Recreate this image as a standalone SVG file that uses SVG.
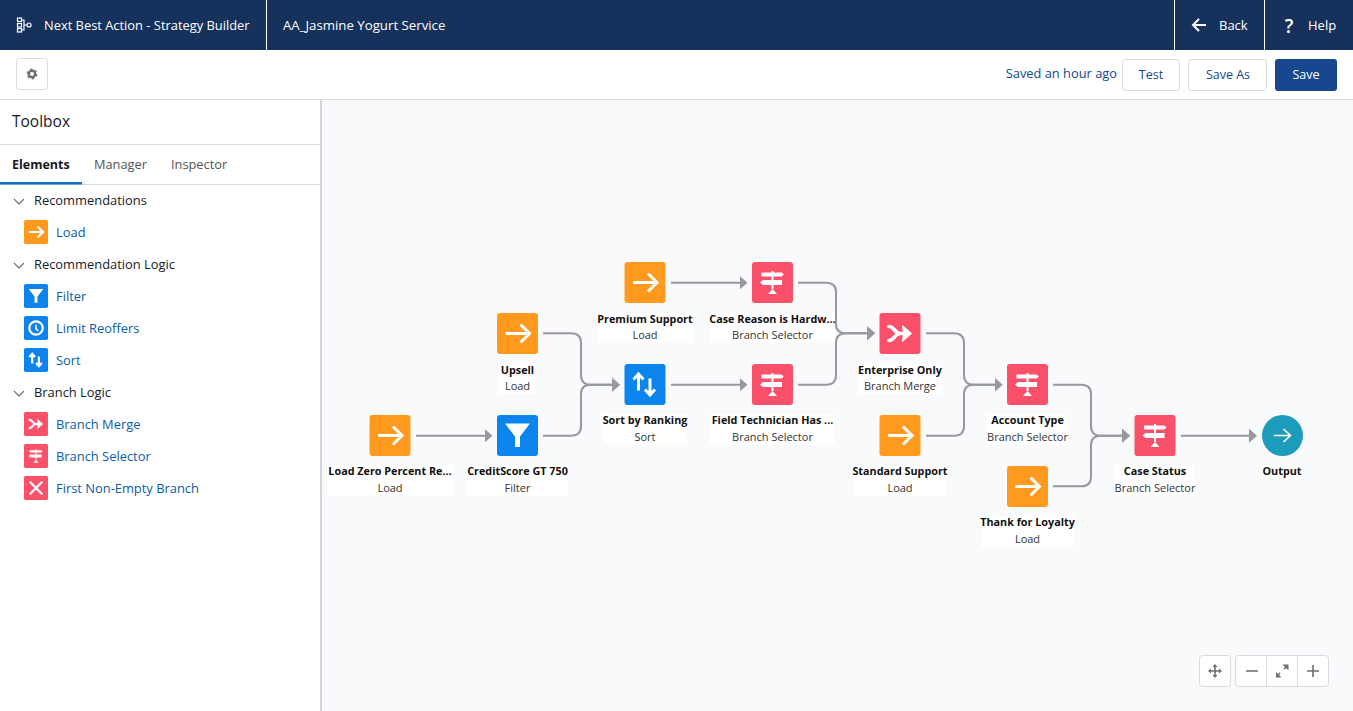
<svg xmlns="http://www.w3.org/2000/svg" xmlns:xlink="http://www.w3.org/1999/xlink" width="1353" height="711" viewBox="0 0 1353 711">
<style>
text{font-family:"Open Sans","Noto Sans","Liberation Sans",sans-serif}
.hd{fill:#fff;font-size:13px}
.sec{fill:#16191f;font-size:12.9px}
.lnk{fill:#0b5cab;font-size:12.9px}
.btn{fill:#16478f;font-size:12.5px;text-anchor:middle}
.t{fill:#111;font-size:10.8px;font-weight:700;text-anchor:middle}
.s{fill:#333;font-size:11px;text-anchor:middle}
.bg{fill:#fff}
.conn{fill:none;stroke:#97999e;stroke-width:2}
.w{fill:none;stroke:#fff;stroke-width:var(--sw,3)}
.ol{fill:#fff;stroke:#d8dadd;stroke-width:1}
.ic{fill:none;stroke:#706e6b;stroke-width:1.6}
.chev{fill:none;stroke:#6b6d70;stroke-width:1.1}
.side{--sw:3.8}
</style>
<defs>
<marker id="ah" markerUnits="userSpaceOnUse" markerWidth="9" markerHeight="14" refX="0.5" refY="7" orient="auto"><path d="M0 0L8 7L0 14Z" fill="#97999e"/></marker>
<path id="sign" d="M-11-10H-1V-11.500H1V-10H9L11.500-8L9-6H1V-2.500H9.500V2.500H1V6.500H-1V2.500H-9.500L-12.500 0L-9.500-2.500H-1V-6H-11ZM0 6.500L4.500 11.500H-4.500Z" fill="#fff"/>
<g id="i-load"><rect x="-20.5" y="-20.5" width="41" height="41" rx="3" fill="#ff9a1e"/><path class="w" d="M-12 0H11M3-9L12 0L3 9"/></g>
<g id="i-filter"><rect x="-20.5" y="-20.5" width="41" height="41" rx="3" fill="#0b84ee"/><path d="M-12.5-12H12.5L2.5 1V11.5H-2.5V1Z" fill="#fff"/></g>
<g id="i-sort"><rect x="-20.5" y="-20.5" width="41" height="41" rx="3" fill="#0b84ee"/><path class="w" d="M-6.5 6V-10M-11.5-5L-6.5-10.5L-1.500-5M5-6V10M0 5L5 10.500L10 5"/></g>
<g id="i-clock"><rect x="-20.5" y="-20.5" width="41" height="41" rx="3" fill="#0b84ee"/><circle r="11.500" class="w"/><path d="M0-6V1L4 5" class="w" style="--sw:2.500"/></g>
<g id="i-sel"><rect x="-20.5" y="-20.5" width="41" height="41" rx="3" fill="#fb5069"/><use xlink:href="#sign"/></g>
<g id="i-merge"><rect x="-20.5" y="-20.5" width="41" height="41" rx="3" fill="#fb5069"/><path class="w" style="--sw:3.600" stroke-linecap="round" d="M-11-7C-6-7-5 0 0 0C-5 0-6 7-11 7M0 0H5"/><path d="M2.500-8L3.500 0L2.500 8L11.500 0Z" fill="#fff" stroke="#fff" stroke-linejoin="round"/></g>
<g id="i-x"><rect x="-20.5" y="-20.5" width="41" height="41" rx="3" fill="#fb5069"/><path class="w" d="M-11-11L11 11M11-11L-11 11"/></g>
</defs>

<g id="canvas">
<rect width="1353" height="711" fill="#fff"/>
<rect x="321" y="100" width="1032" height="611" fill="#f9fafc"/>
<rect x="320" y="100" width="2" height="611" fill="#d4d5d8"/>
</g>

<g id="header">
<rect width="1353" height="50" fill="#16325c"/>
<path d="M266.500 0V50M1174.500 0V50M1264.500 0V50" stroke="#fff" stroke-width="1"/>
<g fill="none" stroke="#fff" stroke-width="1.200"><rect x="17.500" y="18" width="4" height="3.500"/><rect x="17.500" y="23.500" width="4" height="3.500"/><rect x="17.500" y="28.500" width="4" height="3.500"/><circle cx="29" cy="25" r="2"/><path d="M21.500 20H24V30H21.500M24 25H27"/></g>
<text class="hd" x="44" y="30" style="font-size:12.880px">Next Best Action - Strategy Builder</text>
<text class="hd" x="283" y="30" style="font-size:13.240px">AA_Jasmine Yogurt Service</text>
<path d="M1206 25H1193M1199 19L1193 25L1199 31" fill="none" stroke="#fff" stroke-width="2"/>
<text class="hd" x="1219" y="30">Back</text>
<text x="1289" y="32.500" fill="#fff" font-size="19" font-weight="600" text-anchor="middle">?</text>
<text class="hd" x="1308" y="30">Help</text>
</g>

<g id="toolbar">
<path d="M0 99.500H1353" stroke="#dddbda"/>
<rect class="ol" x="16.500" y="58.500" width="31" height="31" rx="3"/>
<circle cx="32" cy="74" r="3.200" fill="none" stroke="#706e6b" stroke-width="2.400"/>
<circle cx="32" cy="74" r="4.800" fill="none" stroke="#706e6b" stroke-width="1.200" stroke-dasharray="2.500 2.530"/>
<text x="1117" y="78" text-anchor="end" fill="#16478f" font-size="12.850">Saved an hour ago</text>
<rect class="ol" x="1122.500" y="59.500" width="57" height="31" rx="3"/>
<text class="btn" x="1151" y="79">Test</text>
<rect class="ol" x="1188.500" y="59.500" width="78" height="31" rx="3"/>
<text class="btn" x="1228" y="79">Save As</text>
<rect x="1275" y="59" width="62" height="32" rx="3" fill="#16478f"/>
<text class="btn" x="1306" y="79" style="fill:#fff">Save</text>
</g>

<g id="toolbox">
<text x="12" y="127" fill="#16191f" font-size="15.500">Toolbox</text>
<path d="M0 144.500H320M0 184.500H320" stroke="#dddbda"/>
<text x="12" y="169" fill="#16191f" font-size="12.500" font-weight="700">Elements</text>
<text x="94" y="169" fill="#555" font-size="12.800">Manager</text>
<text x="171" y="169" fill="#555" font-size="12.800">Inspector</text>
<rect x="0" y="182" width="82" height="2.500" fill="#0b6fc5"/>
<path class="chev" d="M14 199L19 204L24 199M14 263L19 268L24 263M14 391L19 396L24 391"/>
<text class="sec" x="34" y="205">Recommendations</text>
<text class="sec" x="34" y="269">Recommendation Logic</text>
<text class="sec" x="34" y="397">Branch Logic</text>
<g class="side">
<use xlink:href="#i-load" transform="translate(36 232) scale(.585)"/>
<use xlink:href="#i-filter" transform="translate(36 296) scale(.585)"/>
<use xlink:href="#i-clock" transform="translate(36 328) scale(.585)"/>
<use xlink:href="#i-sort" transform="translate(36 360) scale(.585)"/>
<use xlink:href="#i-merge" transform="translate(36 424) scale(.585)"/>
<use xlink:href="#i-sel" transform="translate(36 456) scale(.585)"/>
<use xlink:href="#i-x" transform="translate(36 488) scale(.585)"/>
</g>
<text class="lnk" x="56" y="237">Load</text>
<text class="lnk" x="56" y="301">Filter</text>
<text class="lnk" x="56" y="333">Limit Reoffers</text>
<text class="lnk" x="56" y="365">Sort</text>
<text class="lnk" x="56" y="429">Branch Merge</text>
<text class="lnk" x="56" y="461">Branch Selector</text>
<text class="lnk" x="56" y="493">First Non-Empty Branch</text>
</g>

<g id="connectors" class="conn">
<path d="M416 435.700H485" marker-end="url(#ah)"/>
<path d="M543 333.300H571Q581 333.300 581 343V375Q581 384.700 591 384.700H612.500" marker-end="url(#ah)"/>
<path d="M543 435.700H571Q581 435.700 581 426V394Q581 384.700 591 384.700H612.500" marker-end="url(#ah)"/>
<path d="M671 282.700H740" marker-end="url(#ah)"/>
<path d="M671 384.700H740" marker-end="url(#ah)"/>
<path d="M798 282.700H826Q836 282.700 836 292V324Q836 333.300 846 333.300H867.500" marker-end="url(#ah)"/>
<path d="M798 384.700H826Q836 384.700 836 375V343Q836 333.300 846 333.300H867.500" marker-end="url(#ah)"/>
<path d="M926 333.300H954Q964 333.300 964 343V375Q964 384.700 974 384.700H995" marker-end="url(#ah)"/>
<path d="M926 435.700H954Q964 435.700 964 426V394Q964 384.700 974 384.700H995" marker-end="url(#ah)"/>
<path d="M1053 384.700H1081Q1091 384.700 1091 394V426Q1091 435.700 1101 435.700H1122.500" marker-end="url(#ah)"/>
<path d="M1053 486.300H1081Q1091 486.300 1091 477V445Q1091 435.700 1101 435.700H1122.500" marker-end="url(#ah)"/>
<path d="M1181 435.700H1249.500" marker-end="url(#ah)"/>
</g>

<g id="n-loadzero"><use xlink:href="#i-load" x="390" y="435.500"/><rect class="bg" x="327" y="465" width="126" height="31"/><text class="t" x="390" y="475">Load Zero Percent Re...</text><text class="s" x="390" y="492">Load</text></g>
<g id="n-credit"><use xlink:href="#i-filter" x="517.500" y="435.500"/><rect class="bg" x="467" y="465" width="101" height="31"/><text class="t" x="517.500" y="475">CreditScore GT 750</text><text class="s" x="517.500" y="492">Filter</text></g>
<g id="n-upsell"><use xlink:href="#i-load" x="517.500" y="333.500"/><rect class="bg" x="499" y="364" width="37" height="30"/><text class="t" x="517.500" y="374">Upsell</text><text class="s" x="517.500" y="390">Load</text></g>
<g id="n-premium"><use xlink:href="#i-load" x="645" y="282.500"/><rect class="bg" x="597" y="313" width="96" height="30"/><text class="t" x="645" y="323">Premium Support</text><text class="s" x="645" y="339">Load</text></g>
<g id="n-sortrank"><use xlink:href="#i-sort" x="645" y="384.500"/><rect class="bg" x="603" y="414" width="84" height="31"/><text class="t" x="645" y="424">Sort by Ranking</text><text class="s" x="645" y="441">Sort</text></g>
<g id="n-casereason"><use xlink:href="#i-sel" x="772.500" y="282.500"/><rect class="bg" x="709" y="313" width="126" height="30"/><text class="t" x="772.500" y="323">Case Reason is Hardw...</text><text class="s" x="772.500" y="339">Branch Selector</text></g>
<g id="n-fieldtech"><use xlink:href="#i-sel" x="772.500" y="384.500"/><rect class="bg" x="709" y="414" width="126" height="31"/><text class="t" x="772.500" y="424">Field Technician Has ...</text><text class="s" x="772.500" y="441">Branch Selector</text></g>
<g id="n-enterprise"><use xlink:href="#i-merge" x="900" y="333.500"/><rect class="bg" x="859" y="364" width="82" height="30"/><text class="t" x="900" y="374">Enterprise Only</text><text class="s" x="900" y="390">Branch Merge</text></g>
<g id="n-standard"><use xlink:href="#i-load" x="900" y="435.500"/><rect class="bg" x="853" y="465" width="94" height="31"/><text class="t" x="900" y="475">Standard Support</text><text class="s" x="900" y="492">Load</text></g>
<g id="n-account"><use xlink:href="#i-sel" x="1027.500" y="384.500"/><rect class="bg" x="987" y="414" width="81" height="31"/><text class="t" x="1027.500" y="424">Account Type</text><text class="s" x="1027.500" y="441">Branch Selector</text></g>
<g id="n-thank"><use xlink:href="#i-load" x="1027.500" y="486.500"/><rect class="bg" x="981" y="516" width="93" height="31"/><text class="t" x="1027.500" y="526">Thank for Loyalty</text><text class="s" x="1027.500" y="543">Load</text></g>
<g id="n-casestatus"><use xlink:href="#i-sel" x="1155" y="435.500"/><rect class="bg" x="1114" y="465" width="81" height="31"/><text class="t" x="1155" y="475">Case Status</text><text class="s" x="1155" y="492">Branch Selector</text></g>
<g id="n-output"><circle cx="1282.500" cy="435.500" r="20.500" fill="#1c9bba"/><path d="M1274 435.500H1290M1283.500 429L1290.500 435.500L1283.500 442" fill="none" stroke="#fff" stroke-width="1.600"/><rect class="bg" x="1262" y="465" width="41" height="14"/><text class="t" x="1282" y="475">Output</text></g>

<g id="zoom-controls">
<rect class="ol" x="1199.500" y="655.500" width="31" height="31" rx="3"/>
<rect class="ol" x="1235.500" y="655.500" width="93" height="31" rx="3"/>
<path d="M1266.500 655.500V686.500M1297.500 655.500V686.500" stroke="#d8dadd"/>
<path class="ic" d="M1209 671H1221M1215 665V677"/>
<path d="M1215 664L1217.500 667H1212.500ZM1215 678L1217.500 675H1212.500ZM1208 671L1211 668.500V673.500ZM1222 671L1219 668.500V673.500Z" fill="#706e6b"/>
<path class="ic" d="M1246 671H1258M1307 671H1319M1313 665V677"/>
<path class="ic" d="M1278 675L1280 673M1284 669L1286 667"/>
<path d="M1276 672V677.500H1281.500ZM1288.500 670.500V664.500H1282.500Z" fill="#706e6b"/>
</g>
</svg>
